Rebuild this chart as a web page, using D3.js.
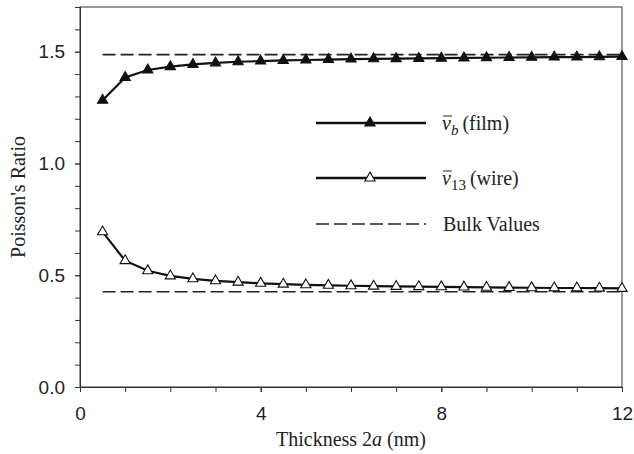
<!DOCTYPE html>
<html>
<head>
<meta charset="utf-8">
<script src="https://cdn.jsdelivr.net/npm/d3@7"></script>
<style>
  body { margin: 0; background: #fff; }
</style>
</head>
<body>
<svg width="634" height="454"></svg>
<script>
const thickness = [0.5, 1, 1.5, 2, 2.5, 3, 3.5, 4, 4.5, 5, 5.5, 6, 6.5, 7, 7.5, 8, 8.5, 9, 9.5, 10, 10.5, 11, 11.5, 12];
const filmValues = [1.283, 1.385, 1.418, 1.433, 1.443, 1.450, 1.455, 1.458, 1.461, 1.463, 1.465, 1.467,
    1.468, 1.469, 1.470, 1.471, 1.472, 1.473, 1.474, 1.475, 1.476, 1.476, 1.477, 1.478];
const wireValues = [0.694, 0.565, 0.520, 0.497, 0.484, 0.475, 0.469, 0.464, 0.460, 0.457, 0.455, 0.453,
    0.451, 0.450, 0.449, 0.448, 0.447, 0.446, 0.445, 0.444, 0.443, 0.443, 0.442, 0.441];
const bulkFilm = 1.487;
const bulkWire = 0.426;
const bulkRange = [0.5, 12];
const xTicks = [0, 4, 8, 12];
const yTicks = [0, 0.5, 1.0, 1.5];

const svg = d3.select('svg');
const margin = { top: 7, right: 12, bottom: 67, left: 80 };
const width = +svg.attr('width');
const height = +svg.attr('height');
const innerWidth = width - margin.left - margin.right;
const innerHeight = height - margin.top - margin.bottom;
const serif = '"Liberation Serif", "Times New Roman", serif';
const sans = '"Liberation Sans", Arial, sans-serif';

const xScale = d3.scaleLinear().domain([0, 12]).range([0, innerWidth]);
const yScale = d3.scaleLinear().domain([0, 1.7]).range([innerHeight, 0]);

const g = svg.append('g')
    .attr('transform', `translate(${margin.left}, ${margin.top})`);

// frame
g.append('rect')
    .attr('width', innerWidth).attr('height', innerHeight)
    .attr('fill', 'none').attr('stroke', '#333').attr('stroke-width', 1);

// minor ticks: unlabelled axes
g.append('g').attr('transform', `translate(0, ${innerHeight})`)
    .call(d3.axisBottom(xScale).tickValues(d3.range(0, 13, 1)).tickSize(5).tickFormat(''));
g.append('g')
    .call(d3.axisLeft(yScale).tickValues(d3.range(0, 18).map(d => d / 10)).tickSize(5).tickFormat(''));
g.selectAll('.tick text').remove();

// major tick labels
const xAxisG = g.append('g').attr('transform', `translate(0, ${innerHeight})`)
    .call(d3.axisBottom(xScale).tickValues(xTicks).tickSize(5).tickPadding(15));
const yAxisG = g.append('g')
    .call(d3.axisLeft(yScale).tickValues(yTicks).tickSize(5).tickPadding(10).tickFormat(d3.format('.1f')));
[xAxisG, yAxisG].forEach(a => a.selectAll('.tick text')
    .attr('font-family', sans).attr('font-size', 19).attr('fill', '#222'));
svg.selectAll('.domain').attr('stroke', '#333');
svg.selectAll('.tick line').attr('stroke', '#333');

// bulk dashed lines
const dash = '13,5';
[bulkFilm, bulkWire].forEach(v => {
    g.append('line')
        .attr('x1', xScale(bulkRange[0])).attr('x2', xScale(bulkRange[1]))
        .attr('y1', yScale(v)).attr('y2', yScale(v))
        .attr('stroke', '#222').attr('stroke-width', 1.6).attr('stroke-dasharray', dash);
});

const line = d3.line().x(d => xScale(d[0])).y(d => yScale(d[1]));
const tri = d3.symbol().type(d3.symbolTriangle).size(45);

const drawSeries = (values, fill) => {
    const pts = thickness.map((t, i) => [t, values[i]]);
    g.append('path').datum(pts).attr('d', line)
        .attr('fill', 'none').attr('stroke', '#111').attr('stroke-width', 2.2);
    g.selectAll(null).data(pts).enter().append('path')
        .attr('d', tri)
        .attr('transform', d => `translate(${xScale(d[0])}, ${yScale(d[1])})`)
        .attr('fill', fill).attr('stroke', '#111').attr('stroke-width', 1.1);
};
drawSeries(filmValues, '#111');
drawSeries(wireValues, '#fff');

// legend
const legend = svg.append('g')
    .attr('font-family', serif).attr('font-size', 20).attr('fill', '#222');
const legendItems = [
    { y: 123, fill: '#111', sub: 'b', subItalic: true, label: '(film)' },
    { y: 178, fill: '#fff', sub: '13', subItalic: false, label: '(wire)' }
];
legendItems.forEach(d => {
    legend.append('line').attr('x1', 316).attr('x2', 426).attr('y1', d.y).attr('y2', d.y)
        .attr('stroke', '#111').attr('stroke-width', 2.4);
    legend.append('path').attr('d', tri)
        .attr('transform', `translate(370, ${d.y})`)
        .attr('fill', d.fill).attr('stroke', '#111').attr('stroke-width', 1.1);
    const base = d.y + 7;
    const v = legend.append('text').attr('x', 442).attr('y', base)
        .attr('font-style', 'italic').text('v');
    const vw = v.node().getComputedTextLength();
    legend.append('line').attr('x1', 443).attr('x2', 442 + vw + 1)
        .attr('y1', base - 14).attr('y2', base - 14)
        .attr('stroke', '#222').attr('stroke-width', 1);
    const t = legend.append('text').attr('x', 442 + vw).attr('y', base);
    t.append('tspan').attr('font-style', d.subItalic ? 'italic' : 'normal')
        .attr('font-size', 15).attr('dy', 5).text(d.sub);
    t.append('tspan').attr('dy', -5).text('\u2009' + d.label);
});
legend.append('line').attr('x1', 316).attr('x2', 426).attr('y1', 224).attr('y2', 224)
    .attr('stroke', '#222').attr('stroke-width', 1.6).attr('stroke-dasharray', dash);
legend.append('text').attr('x', 443).attr('y', 231).text('Bulk Values');

// axis titles
const xt = svg.append('text')
    .attr('font-family', serif).attr('font-size', 20).attr('fill', '#222')
    .attr('x', margin.left + innerWidth / 2).attr('y', 446).attr('text-anchor', 'middle');
xt.append('tspan').text('Thickness 2');
xt.append('tspan').attr('font-style', 'italic').text('a');
xt.append('tspan').text(' (nm)');

svg.append('text')
    .attr('font-family', serif).attr('font-size', 20).attr('fill', '#222')
    .attr('transform', `translate(25, ${margin.top + innerHeight / 2}) rotate(-90)`)
    .attr('text-anchor', 'middle')
    .text("Poisson's Ratio");
</script>
</body>
</html>
